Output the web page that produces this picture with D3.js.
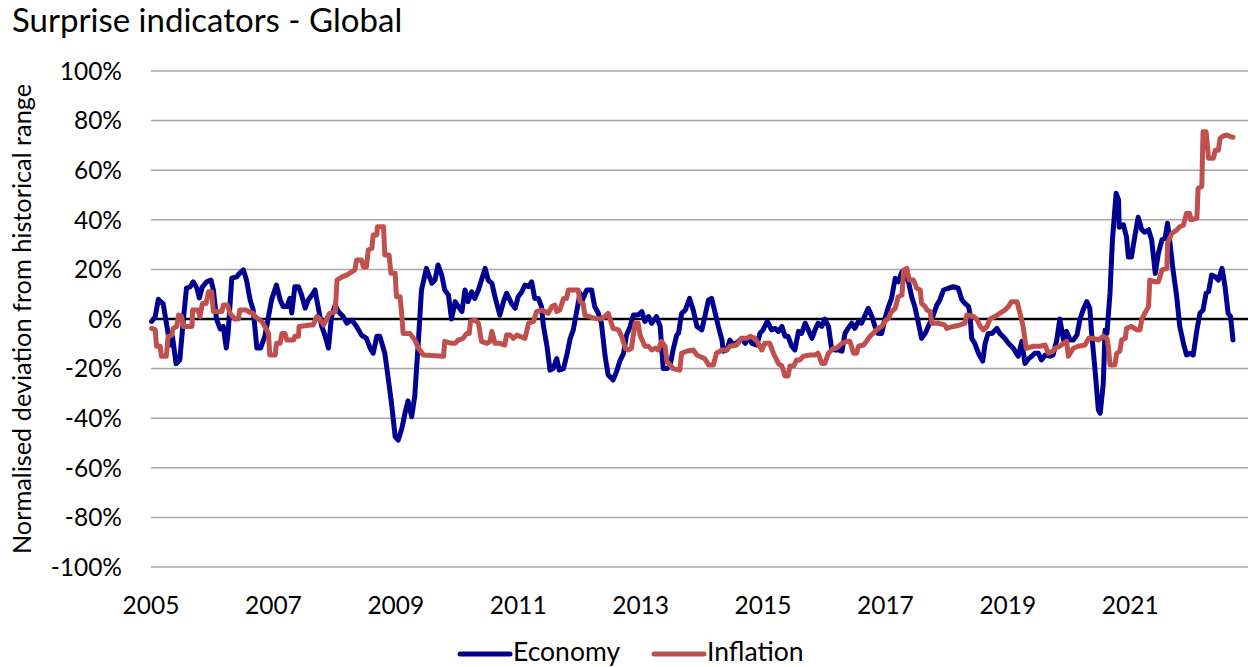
<!DOCTYPE html>
<html>
<head>
<meta charset="utf-8">
<script src="https://cdn.jsdelivr.net/npm/d3@7"></script>
<style>
  html, body { margin: 0; padding: 0; background: #ffffff; }
  svg { display: block; font-family: Lato, "Open Sans", sans-serif; }
</style>
</head>
<body>
<svg id="chart" width="1248" height="667"></svg>
<script>
// ---- Data ----
const chartTitle = "Surprise indicators - Global";
const yAxisTitle = "Normalised deviation from historical range";
const seriesNames = ["Economy", "Inflation"];
const xTickYears = [2005, 2007, 2009, 2011, 2013, 2015, 2017, 2019, 2021];
const yTickValues = [100, 80, 60, 40, 20, 0, -20, -40, -60, -80, -100];

const econYears = [2005.01,2005.07,2005.12,2005.20,2005.26,2005.31,2005.35,2005.41,2005.47,2005.53,2005.58,2005.64,2005.69,2005.75,2005.79,2005.84,2005.91,2005.98,2006.02,2006.07,2006.13,2006.18,2006.23,2006.26,2006.32,2006.40,2006.45,2006.51,2006.56,2006.62,2006.67,2006.73,2006.79,2006.86,2006.92,2006.97,2007.05,2007.11,2007.16,2007.22,2007.27,2007.30,2007.35,2007.41,2007.46,2007.52,2007.57,2007.63,2007.68,2007.71,2007.79,2007.84,2007.90,2007.95,2008.01,2008.06,2008.14,2008.20,2008.28,2008.36,2008.44,2008.52,2008.58,2008.63,2008.69,2008.74,2008.82,2008.88,2008.93,2008.99,2009.04,2009.10,2009.15,2009.20,2009.26,2009.31,2009.37,2009.42,2009.50,2009.59,2009.64,2009.69,2009.75,2009.80,2009.86,2009.91,2009.97,2010.02,2010.08,2010.13,2010.18,2010.24,2010.29,2010.35,2010.40,2010.46,2010.51,2010.57,2010.62,2010.70,2010.76,2010.81,2010.89,2010.95,2011.00,2011.06,2011.11,2011.17,2011.22,2011.27,2011.33,2011.38,2011.41,2011.47,2011.52,2011.57,2011.63,2011.67,2011.74,2011.79,2011.85,2011.90,2011.96,2012.01,2012.05,2012.12,2012.20,2012.25,2012.31,2012.36,2012.42,2012.47,2012.55,2012.61,2012.66,2012.72,2012.77,2012.83,2012.88,2012.96,2013.02,2013.07,2013.13,2013.18,2013.26,2013.32,2013.37,2013.43,2013.48,2013.53,2013.59,2013.62,2013.67,2013.73,2013.80,2013.86,2013.92,2014.00,2014.05,2014.11,2014.16,2014.22,2014.27,2014.33,2014.35,2014.41,2014.46,2014.51,2014.60,2014.65,2014.71,2014.76,2014.82,2014.90,2014.95,2015.00,2015.07,2015.14,2015.20,2015.25,2015.31,2015.36,2015.41,2015.47,2015.52,2015.58,2015.63,2015.69,2015.74,2015.80,2015.85,2015.90,2015.96,2016.01,2016.07,2016.12,2016.18,2016.23,2016.29,2016.34,2016.39,2016.45,2016.50,2016.56,2016.61,2016.67,2016.72,2016.78,2016.83,2016.88,2016.94,2016.99,2017.05,2017.10,2017.16,2017.21,2017.27,2017.32,2017.37,2017.43,2017.48,2017.54,2017.59,2017.65,2017.70,2017.76,2017.84,2017.89,2017.95,2018.03,2018.11,2018.19,2018.25,2018.30,2018.36,2018.38,2018.41,2018.46,2018.52,2018.59,2018.63,2018.68,2018.74,2018.82,2018.87,2018.95,2019.01,2019.09,2019.17,2019.23,2019.28,2019.34,2019.39,2019.44,2019.50,2019.55,2019.61,2019.69,2019.74,2019.80,2019.85,2019.91,2019.96,2020.02,2020.07,2020.13,2020.18,2020.23,2020.29,2020.34,2020.37,2020.42,2020.48,2020.51,2020.56,2020.59,2020.62,2020.67,2020.71,2020.77,2020.81,2020.82,2020.89,2020.94,2020.97,2021.02,2021.08,2021.13,2021.19,2021.24,2021.30,2021.35,2021.41,2021.46,2021.52,2021.57,2021.61,2021.65,2021.70,2021.76,2021.81,2021.87,2021.92,2021.98,2022.03,2022.09,2022.14,2022.19,2022.24,2022.28,2022.33,2022.39,2022.44,2022.50,2022.55,2022.60,2022.64,2022.68];
const econValues = [-1,1,8,6,-3,-10.5,-7,-18,-16.5,0,12.5,13,15,12.5,8.5,13,15,15.7,11.7,0,-4,-3,-11.7,-5.7,16.5,17,18.5,19.8,15.7,7.7,3.6,-11.7,-11.7,-7,1,7.7,13.7,7.7,5,5,8.3,2.4,13,13,9.7,4.4,7.7,9.7,11.7,7.7,-3,-6.5,-11.7,1,5.6,3,1,-1.7,-0.4,-3,-6.5,-7.8,-11.7,-13.8,-7,-7,-13.8,-24.6,-34,-47.5,-48.8,-44,-38,-33,-39.4,-31,-8.5,11.7,20.4,14.4,15.7,21.8,17.7,11.7,9.7,0,7,5,3,11.7,7,11,8.3,11.7,15.7,20.4,15.7,14.4,9,1.6,7,10.4,6.3,4.3,9,11,13.7,13,15,8.3,8.3,5,-2.4,-11,-20.6,-20,-16,-20.6,-20,-15,-7.8,-4.4,3.6,10.4,7.7,11.7,11.7,5,2.3,-1.7,-15,-22.6,-24.6,-21,-17,-14,-6.5,-3,1.6,1.6,3,-1,1,-1.7,1,-3,-20,-20,-19,-12.5,-6.5,-5.7,2.3,3.6,8.3,3.6,-3,-4.4,1,7.7,8.3,2.3,-3,-8.5,-13,-12.5,-8.5,-10.5,-9,-7.8,-9.8,-7.8,-9.8,-10.5,-5.8,-4.4,-1,-4.4,-3.8,-5,-3,-7,-7,-11,-12.5,-5,-5.8,-1.7,-4.4,-7.8,-4.4,-1.7,-3,0,-3,-11.8,-12.5,-12.5,-13,-5.8,-3.8,-1.7,-3.8,-1,-1.7,1.6,4.3,1,-3,-5.8,-5.8,0,5,8.3,16.4,15,19,16.4,15.7,9,5,-1.7,-7.8,-5.8,-3,0,5.6,7.7,11.7,12.4,13,12.4,7.7,6.3,5,2.3,-7.8,-9.8,-13.8,-17,-9.8,-5.8,-5.8,-3.8,-5.8,-7.8,-9.8,-11.8,-15,-9,-17.9,-16,-15,-13.8,-13.8,-16.5,-14.5,-15,-14.5,-8.5,0,-8.5,-5,-8.5,-8.5,-6.5,0,3.6,7,4.3,-5.8,-19,-36.7,-38,-26,-4.4,-5.8,10.4,32,50.7,48,37,38,33,25,25,34,41,36,35,36,32,18.4,26.5,32,32.5,38.6,30.5,19.8,9,-3,-9.8,-14.5,-13.8,-14.5,-4.4,2.3,3.6,10.4,11,17.7,17,15.7,20.4,13,2.3,1,-8.5];

const inflYears = [2005.01,2005.07,2005.09,2005.15,2005.17,2005.25,2005.28,2005.34,2005.36,2005.42,2005.45,2005.50,2005.53,2005.67,2005.68,2005.77,2005.80,2005.84,2005.90,2005.94,2005.99,2006.02,2006.16,2006.18,2006.25,2006.29,2006.37,2006.43,2006.45,2006.56,2006.59,2006.67,2006.70,2006.81,2006.86,2006.92,2006.94,2007.03,2007.05,2007.11,2007.14,2007.19,2007.22,2007.33,2007.35,2007.41,2007.42,2007.60,2007.65,2007.71,2007.76,2007.82,2007.87,2007.92,2008.01,2008.04,2008.12,2008.20,2008.28,2008.33,2008.36,2008.44,2008.47,2008.52,2008.55,2008.61,2008.63,2008.69,2008.70,2008.80,2008.82,2008.89,2008.92,2008.99,2009.01,2009.07,2009.10,2009.12,2009.23,2009.31,2009.37,2009.45,2009.78,2009.80,2009.91,2009.97,2010.02,2010.10,2010.16,2010.20,2010.22,2010.29,2010.35,2010.40,2010.49,2010.54,2010.57,2010.62,2010.70,2010.78,2010.81,2010.87,2010.92,2010.98,2011.03,2011.11,2011.17,2011.25,2011.30,2011.38,2011.44,2011.49,2011.55,2011.60,2011.63,2011.68,2011.74,2011.79,2011.82,2011.98,2012.01,2012.06,2012.09,2012.25,2012.34,2012.42,2012.47,2012.50,2012.55,2012.64,2012.69,2012.75,2012.80,2012.85,2012.91,2012.96,2012.99,2013.07,2013.13,2013.18,2013.24,2013.29,2013.34,2013.40,2013.43,2013.53,2013.64,2013.67,2013.75,2013.86,2013.92,2014.05,2014.11,2014.19,2014.24,2014.33,2014.41,2014.46,2014.57,2014.65,2014.73,2014.79,2014.87,2014.92,2014.98,2015.03,2015.11,2015.17,2015.25,2015.31,2015.36,2015.41,2015.44,2015.50,2015.55,2015.60,2015.66,2015.77,2015.85,2015.90,2015.96,2016.01,2016.07,2016.15,2016.20,2016.29,2016.37,2016.42,2016.48,2016.53,2016.56,2016.64,2016.69,2016.75,2016.83,2016.88,2016.94,2016.99,2017.05,2017.10,2017.16,2017.21,2017.27,2017.30,2017.35,2017.39,2017.46,2017.51,2017.57,2017.59,2017.65,2017.68,2017.73,2017.76,2017.86,2017.97,2018.00,2018.11,2018.22,2018.30,2018.33,2018.44,2018.49,2018.55,2018.60,2018.66,2018.71,2018.79,2018.87,2018.95,2019.01,2019.06,2019.15,2019.20,2019.25,2019.30,2019.42,2019.53,2019.61,2019.66,2019.74,2019.77,2019.85,2019.91,2019.96,2019.99,2020.07,2020.15,2020.26,2020.32,2020.40,2020.48,2020.56,2020.62,2020.64,2020.67,2020.75,2020.78,2020.83,2020.86,2020.92,2020.94,2021.02,2021.11,2021.16,2021.19,2021.24,2021.30,2021.32,2021.41,2021.46,2021.52,2021.60,2021.61,2021.68,2021.76,2021.81,2021.87,2021.92,2021.97,2021.99,2022.09,2022.11,2022.17,2022.19,2022.24,2022.28,2022.36,2022.39,2022.44,2022.47,2022.52,2022.58,2022.64,2022.68];
const inflValues = [-3.8,-4.4,-11,-11,-15,-15,-7,-6.5,-3.8,-3,1.6,1,-3,-3,3.6,3.6,1,6.3,6.3,11,11,3,3,5.6,5.6,2.3,0,0,3.6,3.6,3,2.3,1,-1,-3,-5.8,-14.5,-14.5,-9.8,-9.8,-5.8,-5.8,-8.5,-8.5,-7,-7,-3,-2.4,-2.4,1,0,-2.4,0,2.3,3,15.7,17,17.7,19,19.8,23.8,23.8,21,21,27.8,28.5,33.9,33.9,37.2,37.2,25.8,25.8,18.4,18.4,9,9,1,-5.8,-5.8,-8.5,-11.8,-14.5,-15,-9,-9.8,-9.8,-8.5,-7.8,-5.8,-5.8,-1,-0.4,-1.7,-9,-9.8,-9,-5,-9.8,-9.8,-10.5,-6.5,-6.5,-7.8,-6.5,-7,-7.8,-1.7,-1,3,3.6,3,2.3,5,5.6,3,3.6,8.3,8.3,11.7,11.7,7,6.3,1.6,0.3,0,1,2.3,0,-3.8,-4.4,-7,-11.8,-12.5,-11.8,-1.7,-1.7,-6.5,-11,-11,-12.5,-11.8,-12.5,-9,-11,-17,-20,-20.6,-13.8,-13,-12.5,-14.5,-16,-18.5,-18.5,-13.8,-12.5,-12.5,-11,-10.5,-7.8,-7.8,-7,-7.8,-9.8,-12.5,-9.8,-9.8,-13.8,-17.9,-19,-23,-23,-19,-19,-16.5,-16.5,-15,-14.5,-14.5,-13.8,-17.9,-17.9,-13.8,-11.8,-11.8,-9.8,-9,-9,-13.8,-13.8,-11,-10.5,-9,-7,-5,-3.8,-3,-1,0.3,3,4.3,9,9.7,19.8,20.4,15.7,15.7,12.4,11.7,6.3,5,3.6,3,-1.7,-1.7,-2.4,-3.8,-3,-2.4,-1.7,1.6,1,0,-3,-4.4,-3,0,1,2.3,3.6,5,7,7,2.3,-3,-11.8,-11,-11,-10.5,-13.8,-13,-11.8,-11,-9.8,-9,-15,-11.8,-11,-10.5,-7.8,-7.8,-8.5,-7,-7.8,-10.5,-18.5,-18.5,-13.8,-13,-8.5,-7.8,-3.8,-3,-4.4,-4.4,0,2.3,5,15.7,15,15,19.8,20.4,30.5,34.5,35.9,37.2,37.9,42.6,42.6,40,40.6,52.7,53.4,75.5,75.5,64.8,64.8,68,68,72.9,73.8,74.2,73.5,73.3];

// ---- Layout ----
const svg = d3.select("#chart");
const plot = { left: 151, right: 1248, top: 71, bottom: 567 };
const x = d3.scaleLinear().domain([2005, 2023]).range([plot.left, plot.left + 18 * 61.2]);
const y = d3.scaleLinear().domain([-100, 100]).range([plot.bottom, plot.top]);

// Title
svg.append("text")
  .attr("x", 12).attr("y", 32)
  .attr("font-size", 33).attr("fill", "#000")
  .text(chartTitle);

// Gridlines
svg.append("g").selectAll("line")
  .data(yTickValues.filter(v => v !== 0))
  .join("line")
  .attr("x1", plot.left).attr("x2", plot.right)
  .attr("y1", d => y(d)).attr("y2", d => y(d))
  .attr("stroke", "#a6a6a6").attr("stroke-width", 1.5);

// Y tick labels
svg.append("g").selectAll("text")
  .data(yTickValues)
  .join("text")
  .attr("x", 122).attr("y", d => y(d))
  .attr("dy", "0.36em")
  .attr("text-anchor", "end")
  .attr("font-size", 24.5)
  .text(d => d + "%");

// X tick labels
svg.append("g").selectAll("text")
  .data(xTickYears)
  .join("text")
  .attr("x", d => x(d)).attr("y", 614)
  .attr("text-anchor", "middle")
  .attr("font-size", 24.5)
  .text(d => d);

// Y axis title
svg.append("text")
  .attr("transform", `translate(31, ${(plot.top + plot.bottom) / 2}) rotate(-90)`)
  .attr("text-anchor", "middle")
  .attr("font-size", 25.3)
  .text(yAxisTitle);

// Zero line
svg.append("line")
  .attr("x1", plot.left).attr("x2", plot.right)
  .attr("y1", y(0)).attr("y2", y(0))
  .attr("stroke", "#000").attr("stroke-width", 2.5);

const econ = econYears.map((t, i) => [t, econValues[i]]);
const infl = inflYears.map((t, i) => [t, inflValues[i]]);
const line = d3.line().x(d => x(d[0])).y(d => y(d[1]));
const colors = ["#000090", "#c0504d"];

svg.append("path").datum(econ)
  .attr("d", line).attr("fill", "none")
  .attr("stroke", colors[0]).attr("stroke-width", 5)
  .attr("stroke-linejoin", "round").attr("stroke-linecap", "round");
svg.append("path").datum(infl)
  .attr("d", line).attr("fill", "none")
  .attr("stroke", colors[1]).attr("stroke-width", 5)
  .attr("stroke-linejoin", "round").attr("stroke-linecap", "round");

// Legend
const legendItems = [
  { name: seriesNames[0], color: colors[0], x0: 460 },
  { name: seriesNames[1], color: colors[1], x0: 654 }
];
const lg = svg.append("g");
legendItems.forEach(it => {
  lg.append("line")
    .attr("x1", it.x0).attr("x2", it.x0 + 50)
    .attr("y1", 654).attr("y2", 654)
    .attr("stroke", it.color).attr("stroke-width", 5)
    .attr("stroke-linecap", "round");
  lg.append("text")
    .attr("x", it.x0 + 53).attr("y", 661)
    .attr("font-size", 26.5)
    .text(it.name);
});
</script>
</body>
</html>
